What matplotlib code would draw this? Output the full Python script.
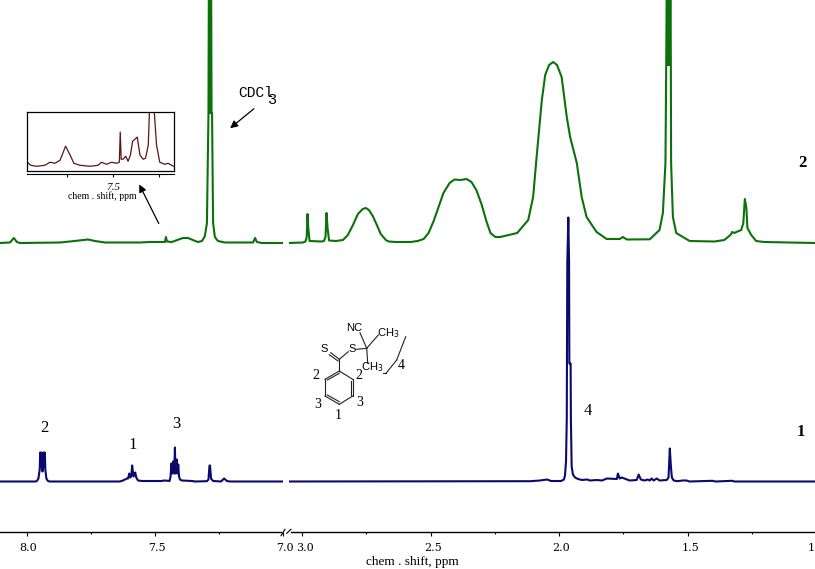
import matplotlib
matplotlib.use("Agg")
import matplotlib.pyplot as plt
from matplotlib.transforms import ScaledTranslation

W, H = 815, 569
BASE1 = 481.5   # pixel row of baseline, spectrum 1
BASE2 = 243.0   # pixel row of baseline, spectrum 2
OFFSET2 = BASE1 - BASE2

# ---- spectrum 1 (blue), aromatic part
ppm1_left = [8.105, 7.965, 7.961, 7.955, 7.950, 7.948, 7.945, 7.943, 7.939, 7.935, 7.932, 7.930, 7.928, 7.924, 7.918, 7.910,
             7.637, 7.625, 7.609, 7.605, 7.600, 7.596, 7.592, 7.589, 7.584, 7.580, 7.577, 7.573, 7.566, 7.551,
             7.473, 7.465, 7.449, 7.443, 7.439, 7.436, 7.432, 7.429, 7.425, 7.422, 7.420, 7.415, 7.412, 7.409, 7.406, 7.402, 7.395,
             7.355, 7.344, 7.297, 7.291, 7.287, 7.285, 7.281, 7.273, 7.242, 7.230, 7.219, 7.207, 7.0]
int1_left = [0, 0, 0.5, 3, 12, 29, 15, 29, 10, 29, 15, 29, 12, 3, 0.5, 0,
             0, 1, 3, 3, 8, 4, 6, 16, 5, 7, 9, 4, 1, 0.5,
             0.5, 1, 0.7, 0.5, 5, 18, 8, 20, 8, 34, 8, 22, 8, 17, 5, 2, 1,
             0.5, 0, 0.3, 2, 16, 16, 3, 0.5, 0, 3, 0.5, 0, 0]

# ---- spectrum 1 (blue), aliphatic part
ppm1_right = [3.051, 2.112, 2.074, 2.047, 2.031, 1.992, 1.981, 1.977, 1.973, 1.970, 1.968, 1.964, 1.961, 1.960, 1.955, 1.954, 1.951, 1.946, 1.938, 1.926, 1.911,
              1.891, 1.880, 1.853, 1.833, 1.814, 1.775, 1.771, 1.764, 1.756, 1.736, 1.725, 1.698, 1.690, 1.682, 1.667, 1.655, 1.647, 1.640, 1.632,
              1.620, 1.609, 1.581, 1.574, 1.569, 1.565, 1.561, 1.554, 1.539, 1.519, 1.504, 1.492, 1.403, 1.391, 1.326, 1.318, 1.004]
int1_right = [0, 0.3, 1, 2, 0.5, 0.5, 2, 6, 20, 63, 218, 264, 218, 118, 118, 63, 15, 7, 4, 2.5, 1.5,
              2, 1, 1.5, 1, 3, 2.5, 8, 3, 4, 2, 1, 1.5, 7, 2, 1, 2, 1, 3, 1,
              3, 1, 1.5, 4, 33, 16, 4, 1, 0.3, 1, 1, 0, 0.7, 0, 0.7, 0, 0]

# ---- spectrum 2 (green), aromatic part
ppm2_left = [8.105, 8.066, 8.051, 8.039, 8.027, 7.871, 7.832, 7.762, 7.734, 7.695, 7.559, 7.520, 7.480, 7.461, 7.457, 7.453, 7.434,
             7.402, 7.391, 7.371, 7.352, 7.332, 7.316, 7.305, 7.297, 7.291, 7.289, 7.287, 7.285, 7.283, 7.281, 7.279, 7.277, 7.273, 7.266, 7.254, 7.227,
             7.117, 7.109, 7.102, 7.082, 7.0]
int2_left = [0, 0.5, 5, 1, 0, 0.5, 1.5, 3.5, 2, 0.5, 0.5, 1, 1, 1, 6, 1.5, 1,
             4, 5, 5, 3, 1, 2, 7, 20, 130, 300, 130, 300, 130, 300, 130, 130, 20, 6, 2, 0.5,
             0.5, 5, 1, 0, 0]

# ---- spectrum 2 (green), aliphatic part
ppm2_right = [3.051, 2.996, 2.987, 2.982, 2.979, 2.976, 2.971, 2.926, 2.915, 2.909, 2.905, 2.901, 2.895, 2.868, 2.841, 2.822, 2.802, 2.783,
              2.764, 2.752, 2.740, 2.725, 2.709, 2.694, 2.674, 2.663, 2.636, 2.578, 2.550, 2.527, 2.508, 2.488, 2.469, 2.450, 2.426, 2.407,
              2.384, 2.360, 2.341, 2.322, 2.302, 2.283, 2.267, 2.248, 2.229, 2.163, 2.120, 2.101, 2.086, 2.067, 2.054, 2.039, 2.023, 2.008,
              1.990, 1.970, 1.957, 1.931, 1.912, 1.893, 1.854, 1.815, 1.764, 1.752, 1.736, 1.647, 1.609, 1.596, 1.586, 1.583,
              1.580, 1.578, 1.575, 1.573, 1.571, 1.569, 1.567, 1.565, 1.564, 1.557, 1.544, 1.492, 1.395, 1.357, 1.333, 1.326, 1.318, 1.310, 1.291, 1.283,
              1.277, 1.271, 1.267, 1.252, 1.233, 1.202, 1.105, 1.004]
int2_right = [0, 0.5, 1.5, 6, 29, 15, 2, 1.5, 2, 6, 30, 15, 2.5, 2, 3, 8, 18, 29,
              34, 35, 33, 27, 18, 9, 3, 1.5, 1, 1, 2, 4, 10, 22, 36, 50, 60, 63.5,
              63, 64, 61, 53, 39, 22, 10, 6, 6, 10, 23, 46, 90, 143, 168, 178, 181, 178,
              166, 126, 106, 80, 46, 26, 11, 4, 4, 6, 3.5, 3.7, 13, 30, 80, 178,
              300, 178, 300, 178, 300, 178, 300, 178, 80, 26, 10, 2, 1.5, 3, 8, 11, 10, 11, 13, 20,
              44, 35, 15, 8, 2, 1, 0.5, 0]

# ---- inset trace
ppm_inset = [7.686, 7.679, 7.666, 7.648, 7.637, 7.626, 7.615, 7.603, 7.593, 7.585, 7.572, 7.550, 7.532, 7.525, 7.514, 7.503, 7.492, 7.486,
             7.484, 7.482, 7.478, 7.472, 7.467, 7.462, 7.457, 7.452, 7.447, 7.441, 7.434, 7.429, 7.423, 7.420, 7.411, 7.405, 7.398, 7.387,
             7.380, 7.368]
int_inset = [3, 0, -1, 0, 3, 2, 5, 19, 10, 2, 0, -1, 0, 3, 1, 3, 2, 3,
             33, 6, 6, 9, 4, 10, 24, 26, 28, 10, 6, 7, 20, 60, 60, 20, 3, 1,
             2, -1]

left_ticks = [8.0, 7.5, 7.0]
left_labels = ["8.0", "7.5", "7.0"]
left_minor = [7.75, 7.25]
right_ticks = [3.0, 2.5, 2.0, 1.5]
right_labels = ["3.0", "2.5", "2.0", "1.5"]
right_minor = [2.75, 2.25, 1.75, 1.25]

# peak assignments and structure labels (text, x px, y px)
peak_labels = [("2", 44, 428), ("1", 133, 445), ("3", 176, 424), ("4", 588, 411)]
struct_labels = [("S", 324.3, 348.5), ("S", 352.3, 348.5), ("NC", 354, 327.5), ("2", 316, 375.5), ("2", 358.5, 375.5),
                 ("3", 317.5, 404), ("3", 359.5, 402.5), ("1", 338.5, 415), ("4", 401.5, 365)]
# bonds as (x0, y0, x1, y1) px
bonds = [(330.7, 352.7, 339.3, 359.3), (329.3, 354.7, 338, 361), (339.3, 359.3, 348.3, 351.7), (356.7, 349.3, 366.7, 348.3),
         (366.7, 348.3, 360, 332.7), (366.7, 348.3, 378.3, 335), (366.7, 348.3, 367.7, 363.3), (339.3, 359.3, 339.3, 371),
         (339.3, 371, 352.7, 379.3), (352.7, 379.3, 352.7, 396), (352.7, 396, 339.3, 404.3), (339.3, 404.3, 325, 396),
         (325, 396, 325, 379.3), (325, 379.3, 339.3, 371), (327.3, 380, 339.3, 373.3), (350.7, 380.7, 350.7, 395),
         (327.3, 395, 339.3, 401.7), (405.7, 336.7, 396.7, 360), (396.7, 360, 386, 373.3), (386, 373.3, 383.3, 373.3)]

BLUE = "#0a0a6e"
GREEN = "#0b720b"
MAROON = "#5e1414"
SERIF = "Liberation Serif"

plt.rcParams["font.family"] = SERIF
fig = plt.figure(figsize=(W / 100, H / 100), dpi=100)


def px_axes(x0, y0, x1, y1):
    return fig.add_axes([x0 / W, 1 - y1 / H, (x1 - x0) / W, (y1 - y0) / H])


def spectrum_axes(x0, x1, xlim, ticks, labels, minor, shift):
    ax = px_axes(x0, 0, x1, H)
    ax.patch.set_alpha(0)
    ax.set_xlim(*xlim)
    ax.set_ylim(BASE1 - H, BASE1)
    for s in ["top", "left", "right"]:
        ax.spines[s].set_visible(False)
    ax.spines["bottom"].set_position(("data", BASE1 - 532.3))
    ax.spines["bottom"].set_linewidth(1.0)
    ax.set_yticks([])
    ax.set_xticks(ticks)
    ax.set_xticklabels(labels, fontsize=8, family="DejaVu Serif")
    ax.set_xticks(minor, minor=True)
    ax.tick_params(axis="x", which="major", length=3, width=0.8, pad=5)
    ax.tick_params(axis="x", which="minor", length=1.5, width=0.8)
    move = ScaledTranslation(shift / 100, 0, fig.dpi_scale_trans)
    for lab in ax.get_xticklabels():
        lab.set_transform(lab.get_transform() + move)
    return ax


ax_l = spectrum_axes(0, 283, (8.105, 7.0), left_ticks, left_labels, left_minor, 1.5)
ax_r = spectrum_axes(289, 815, (3.051, 1.004), right_ticks, right_labels, right_minor, 2.5)
ax_l.spines["bottom"].set_bounds(8.105, 7.008)
ax_r.spines["bottom"].set_bounds(3.043, 1.004)

ax_l.plot(ppm1_left, int1_left, color=BLUE, lw=1.5)
ax_r.plot(ppm1_right, int1_right, color=BLUE, lw=1.5)
ax_l.plot(ppm2_left, [v + OFFSET2 for v in int2_left], color=GREEN, lw=1.5)
ax_r.plot(ppm2_right, [v + OFFSET2 for v in int2_right], color=GREEN, lw=1.5)

# inset
ax_in = px_axes(27, 111.5, 174, 171)
ax_in.set_xlim(7.687, 7.367)
ax_in.set_ylim(-5.7, 53.5)
ax_in.plot(ppm_inset, int_inset, color=MAROON, lw=0.9)
ax_in.set_xticks([])
ax_in.set_yticks([])
for s in ax_in.spines.values():
    s.set_linewidth(0.9)

ax_scale = px_axes(27, 174, 174, 175)
ax_scale.patch.set_alpha(0)
ax_scale.set_xlim(7.687, 7.367)
for s in ["top", "left", "right"]:
    ax_scale.spines[s].set_visible(False)
ax_scale.spines["bottom"].set_position(("axes", 1))
ax_scale.set_yticks([])
ax_scale.set_xticks([7.6, 7.5, 7.4])
ax_scale.set_xticklabels(["", "7.5", ""], fontsize=8, style="italic")
ax_scale.tick_params(axis="x", length=2.5, width=0.8, pad=4)

# overlay in pixel coordinates for annotations
ov = px_axes(0, 0, W, H)
ov.set_xlim(0, W)
ov.set_ylim(H, 0)
ov.axis("off")

ov.text(102, 196, "chem . shift, ppm", fontsize=7, ha="center", va="center")
ov.text(412, 562, "chem . shift, ppm", fontsize=9.5, ha="center", va="center")
ov.text(811, 548, "1", fontsize=8, family="DejaVu Serif", ha="center", va="center")
for txt, x, y in peak_labels:
    ov.text(x, y, txt, fontsize=12, ha="center", va="center")
ov.text(801, 432, "1", fontsize=12, fontweight="bold", ha="center", va="center")
ov.text(802, 163, "2", fontsize=12, fontweight="bold", ha="center", va="center")

ov.text(238, 93, "CDCl", fontsize=10.5, family="Liberation Mono", ha="left", va="center")
ov.text(272, 100, "3", fontsize=11, family="Liberation Mono", ha="center", va="center")
ov.annotate("", xy=(228, 130), xytext=(256, 107),
            arrowprops=dict(arrowstyle="-|>", color="black", lw=0.9, mutation_scale=11))
ov.annotate("", xy=(138, 182), xytext=(160, 226),
            arrowprops=dict(arrowstyle="-|>", color="black", lw=0.9, mutation_scale=11))

# break marks on the axis
ov.plot([281, 285], [535.7, 529.3], color="black", lw=0.8)
ov.plot([286.7, 291], [533.3, 529.3], color="black", lw=0.8)

# structure
for x0, y0, x1, y1 in bonds:
    ov.plot([x0, x1], [y0, y1], color="#222222", lw=0.8)
for txt, x, y in struct_labels:
    size = 8 if txt in ("S", "NC") else 10
    ov.text(x, y, txt, fontsize=size, family="Liberation Sans" if size == 8 else SERIF, ha="center", va="center")
ov.text(388, 333, "CH$_3$", fontsize=8, family="Liberation Sans", ha="center", va="center")
ov.text(372, 367.5, "CH$_3$", fontsize=8, family="Liberation Sans", ha="center", va="center")

fig.savefig("out.png", dpi=100)
